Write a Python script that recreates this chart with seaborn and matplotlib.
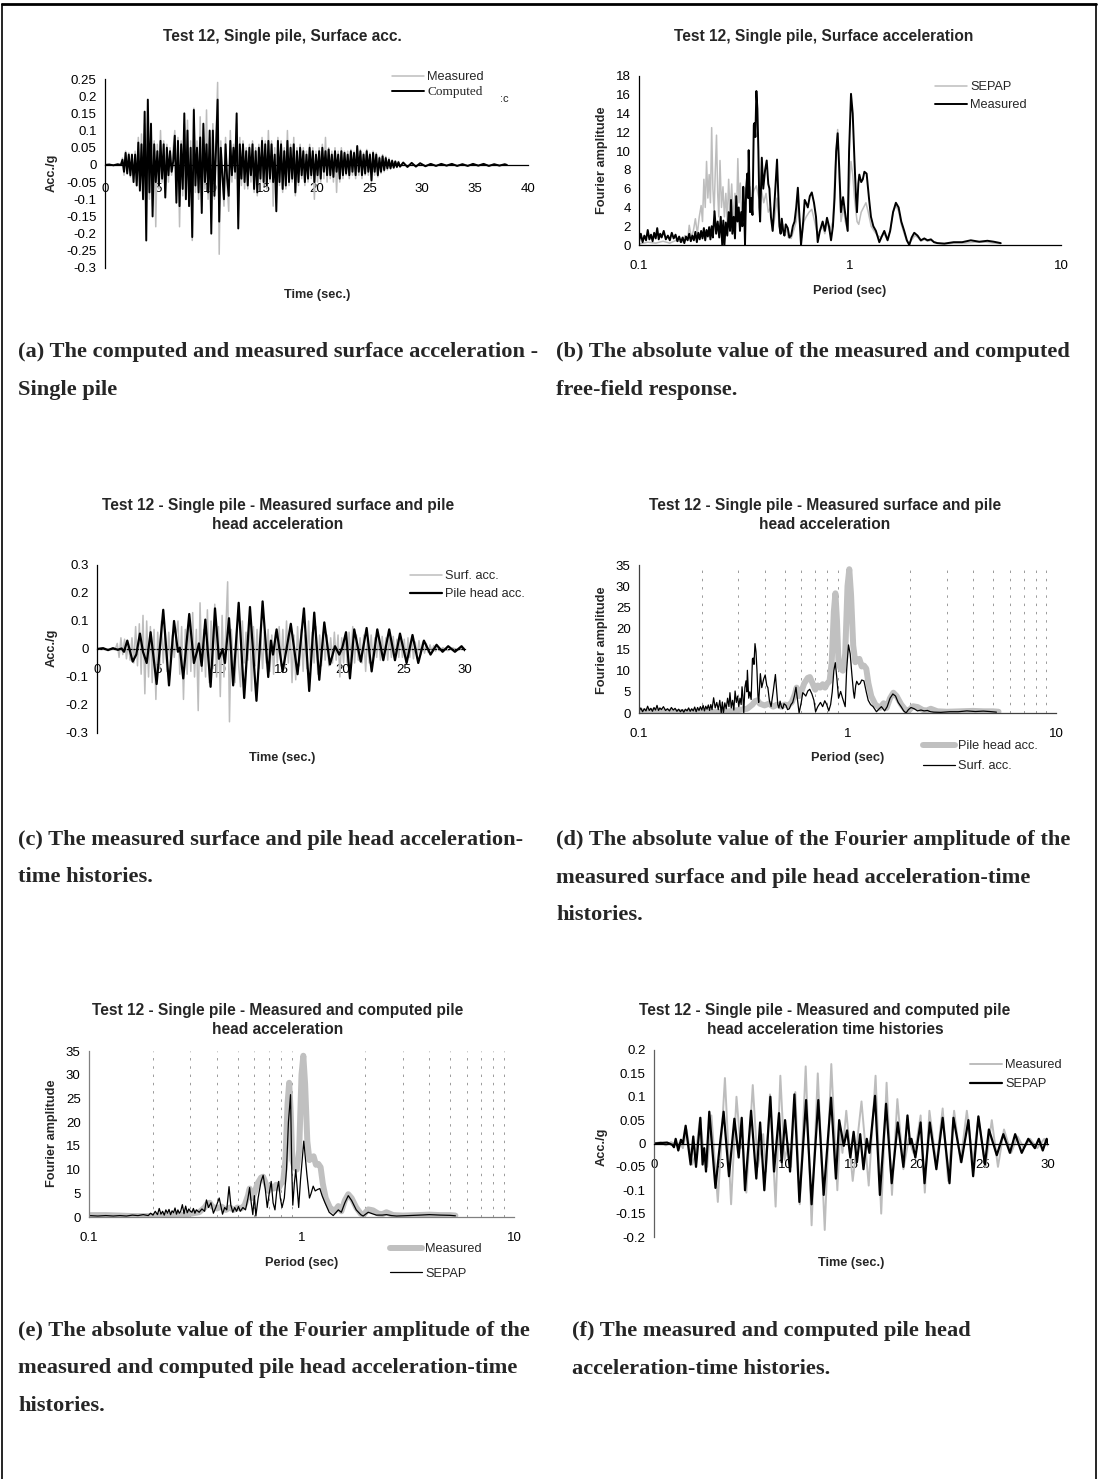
import numpy as np
import matplotlib
matplotlib.use("Agg")
import matplotlib.pyplot as plt
from matplotlib.lines import Line2D
from matplotlib.ticker import FixedLocator, FuncFormatter, LogLocator, NullFormatter
import seaborn as sns

# ---------------- values ----------------
# surface acceleration records (panels a and c): lead-in, 0.15 s samples from 1.5 s, tail
SURF_LEAD_T = [0.0, 0.4, 0.8, 1.2]
SURF_MEAS_LEAD = [0.0, 0.002, -0.002, 0.001]
SURF_COMP_LEAD = [0.0, 0.001, -0.001, 0.002]
SURF_T0, SURF_DT = 1.5, 0.15

SURF_MEAS_ACC = [
    0.0, 0.02, -0.03, 0.04, -0.02, 0.035, -0.035, 0.02, -0.04, 0.04,
    -0.05, 0.08, -0.06, 0.09, -0.09, 0.12, -0.16, 0.1, -0.1, 0.08,
    -0.12, 0.07, -0.18, 0.06, -0.07, 0.1, -0.05, 0.07, -0.08, 0.06,
    -0.05, 0.05, -0.03, 0.05, 0.1, -0.09, 0.08, -0.18, 0.07, -0.09,
    0.12, -0.08, 0.13, -0.1, 0.07, -0.22, 0.165, -0.08, 0.07, -0.1,
    0.14, -0.12, 0.1, -0.07, 0.16, -0.1, 0.08, -0.17, 0.12, -0.1,
    0.07, 0.24, -0.26, 0.07, -0.05, -0.12, 0.08, -0.06, -0.135, 0.1,
    -0.05, 0.06, -0.04, 0.12, -0.15, 0.08, -0.06, 0.07, -0.07, 0.05,
    -0.07, 0.06, -0.05, 0.07, -0.08, 0.05, -0.09, 0.06, -0.05, 0.08,
    -0.06, 0.07, -0.07, 0.1, -0.05, 0.07, -0.12, 0.05, -0.11, 0.08,
    -0.06, 0.07, -0.08, 0.05, -0.07, 0.1, -0.06, 0.06, -0.05, 0.08,
    -0.09, 0.05, -0.06, 0.06, -0.04, 0.05, -0.06, 0.04, -0.05, 0.06,
    -0.04, 0.05, -0.1, 0.04, -0.05, 0.05, -0.05, 0.06, -0.04, 0.08,
    -0.05, 0.05, -0.04, 0.04, -0.05, 0.05, -0.08, 0.04, -0.05, 0.05,
    -0.04, 0.04, -0.03, 0.04, -0.04, 0.045, -0.03, 0.04, -0.04, 0.05,
    -0.03, 0.045, -0.04, 0.035, -0.03, 0.045, -0.03, 0.035, -0.05, 0.04,
    -0.03, 0.035, -0.035, 0.025, -0.025, 0.03, -0.02, 0.025, -0.015, 0.02,
    -0.012, 0.015, -0.01, 0.012, -0.008, 0.01, -0.006,
]
SURF_COMP_ACC = [
    0.0, 0.015, -0.02, 0.035, -0.025, 0.03, -0.03, 0.03, -0.05, 0.03,
    -0.06, 0.065, -0.075, 0.06, -0.1, 0.155, -0.22, 0.19, -0.08, 0.12,
    -0.15, 0.06, -0.05, 0.04, -0.06, 0.07, -0.04, 0.06, -0.095, 0.05,
    -0.03, 0.04, -0.02, 0.01, 0.085, -0.11, 0.07, -0.12, 0.06, -0.07,
    0.15, -0.1, 0.1, -0.12, 0.05, -0.21, 0.16, -0.06, 0.05, -0.08,
    0.08, -0.14, 0.12, -0.05, 0.06, -0.08, 0.1, -0.2, 0.1, -0.09,
    0.05, 0.19, -0.165, 0.05, -0.03, -0.1, 0.06, -0.04, -0.09, 0.07,
    -0.03, 0.05, -0.02, 0.15, -0.185, 0.06, -0.04, 0.06, -0.05, 0.04,
    -0.06, 0.05, -0.03, 0.06, -0.07, 0.04, -0.08, 0.05, -0.04, 0.07,
    -0.05, 0.06, -0.06, 0.07, -0.04, 0.06, -0.05, 0.03, -0.135, 0.07,
    -0.05, 0.06, -0.07, 0.04, -0.06, 0.07, -0.05, 0.05, -0.04, 0.06,
    -0.08, 0.04, -0.05, 0.05, -0.03, 0.04, -0.05, 0.03, -0.04, 0.05,
    -0.03, 0.04, -0.05, 0.03, -0.03, 0.04, -0.04, 0.05, -0.02, 0.04,
    -0.03, 0.045, -0.03, 0.03, -0.035, 0.04, -0.02, 0.03, -0.04, 0.04,
    -0.03, 0.035, -0.025, 0.03, -0.03, 0.04, -0.02, 0.035, -0.03, 0.055,
    -0.02, 0.04, -0.03, 0.03, -0.025, 0.04, -0.02, 0.03, -0.045, 0.035,
    -0.02, 0.03, -0.03, 0.02, -0.02, 0.025, -0.015, 0.02, -0.01, 0.015,
    -0.01, 0.012, -0.008, 0.01, -0.006, 0.008, -0.005,
]
SURF_TAIL_T = [28.2, 28.6, 29.0, 29.4, 29.8, 30.3, 30.8, 31.3, 31.8, 32.3, 32.8,
               33.3, 33.8, 34.3, 34.8, 35.3, 35.8, 36.3, 36.8, 37.3, 37.8, 38.0]
SURF_MEAS_TAIL = [0.005, -0.006, 0.004, -0.004, 0.004, -0.003, 0.003, -0.002, 0.002, -0.003, 0.002,
                  -0.002, 0.003, -0.002, 0.002, -0.003, 0.002, -0.002, 0.002, -0.002, 0.001, 0.0]
SURF_COMP_TAIL = [0.007, -0.006, 0.006, -0.005, 0.005, -0.004, 0.003, -0.003, 0.003, -0.002, 0.003,
                  -0.003, 0.002, -0.003, 0.003, -0.002, 0.003, -0.003, 0.002, -0.002, 0.002, 0.0]

# pile head acceleration (time s, acc/g) - measured and SEPAP
PILE_MEAS = [
    (0.0, 0.0), (0.5, 0.003), (0.9, -0.004), (1.3, 0.003), (1.7, -0.003), (2.0, 0.002),
    (2.2, -0.01), (2.47, 0.03), (2.91, -0.045), (3.2, -0.02), (3.5, 0.055), (3.75, -0.01),
    (4.05, -0.05), (4.37, 0.06), (4.86, -0.125), (5.4, 0.14), (5.87, -0.13), (6.28, 0.1),
    (6.6, -0.01), (6.75, 0.005), (7.03, -0.105), (7.52, 0.125), (7.9, -0.05), (8.15, -0.01),
    (8.31, 0.02), (8.53, -0.06), (8.83, 0.105), (9.26, -0.135), (9.62, 0.145), (9.94, -0.035),
    (10.24, 0.0), (10.43, -0.05), (10.76, 0.11), (11.1, -0.13), (11.55, 0.165), (12.0, -0.175),
    (12.47, 0.15), (13.0, -0.185), (13.5, 0.17), (13.96, -0.1), (14.18, 0.03), (14.35, -0.02),
    (14.64, 0.07), (15.13, -0.08), (15.45, 0.0), (15.8, 0.09), (16.35, -0.09), (16.87, 0.145),
    (17.3, -0.15), (17.71, 0.13), (18.12, -0.11), (18.53, 0.095), (18.99, -0.055), (19.4, 0.01),
    (19.75, -0.02), (20.0, 0.005), (20.3, 0.06), (20.62, -0.105), (20.97, 0.07), (21.5, -0.045),
    (21.98, 0.075), (22.39, -0.08), (22.85, 0.07), (23.34, -0.04), (23.82, 0.07), (24.29, -0.04),
    (24.7, 0.055), (25.24, -0.05), (25.72, 0.05), (26.19, -0.05), (26.65, 0.03), (27.19, -0.02),
    (27.68, 0.015), (28.17, -0.01), (28.63, 0.01), (29.18, -0.01), (29.72, 0.01), (30.0, -0.005),
]
PILE_SEPAP = [
    (0.0, 0.0), (1.0, 0.002), (1.4, -0.003), (1.52, -0.008), (1.65, 0.01), (1.85, -0.015),
    (2.05, 0.008), (2.2, 0.0), (2.41, 0.038), (2.79, -0.045), (2.99, 0.015), (3.2, -0.05),
    (3.53, 0.055), (3.7, -0.045), (3.82, -0.01), (3.96, -0.06), (4.21, 0.068), (4.68, -0.095),
    (4.95, -0.02), (5.3, 0.068), (5.71, -0.07), (6.12, 0.053), (6.45, -0.03), (6.68, 0.055),
    (6.93, -0.1), (7.39, 0.07), (7.79, -0.075), (8.08, 0.045), (8.4, -0.1), (8.86, 0.1),
    (9.14, -0.06), (9.52, 0.065), (9.72, -0.04), (9.98, 0.05), (10.36, -0.06), (10.69, 0.105),
    (11.07, -0.125), (11.58, 0.093), (12.0, -0.13), (12.51, 0.093), (12.92, -0.11), (13.48, 0.098),
    (13.85, -0.075), (14.1, 0.05), (14.45, -0.005), (14.7, 0.028), (14.95, -0.03), (15.2, 0.025),
    (15.45, -0.04), (15.7, 0.02), (15.95, -0.055), (16.2, 0.01), (16.4, -0.02), (16.83, 0.102),
    (17.2, -0.11), (17.67, 0.085), (18.1, -0.085), (18.56, 0.045), (18.99, -0.05), (19.3, 0.06),
    (19.5, 0.0), (19.6, 0.01), (19.9, -0.03), (20.3, 0.045), (20.6, -0.085), (21.0, 0.045),
    (21.5, -0.055), (21.98, 0.055), (22.5, -0.085), (22.8, 0.055), (23.4, -0.04), (23.94, 0.05),
    (24.3, -0.07), (24.7, 0.058), (25.2, -0.045), (25.5, 0.03), (26.1, -0.025), (26.6, 0.02),
    (27.1, -0.02), (27.5, 0.02), (28.0, -0.02), (28.5, 0.01), (29.0, -0.01), (29.3, 0.01),
    (29.6, -0.015), (29.9, 0.01), (30.0, 0.0),
]

# Fourier amplitude spectra (period s, amplitude)
SPEC_SURF_MEAS = [
    (0.1, 0.4), (0.102, 1.2), (0.104, 0.3), (0.106, 1.0), (0.108, 0.5), (0.11, 1.6), (0.112, 0.6),
    (0.114, 1.1), (0.116, 0.4), (0.118, 1.3), (0.12, 0.7), (0.122, 1.8), (0.124, 0.6), (0.126, 1.2),
    (0.128, 0.8), (0.131, 1.5), (0.134, 0.6), (0.137, 1.0), (0.14, 0.5), (0.143, 1.3), (0.146, 0.7),
    (0.149, 1.1), (0.152, 0.4), (0.155, 0.9), (0.158, 0.3), (0.161, 0.8), (0.164, 0.2), (0.167, 0.9),
    (0.17, 0.5), (0.173, 1.2), (0.176, 0.4), (0.179, 1.0), (0.182, 0.5), (0.185, 1.4), (0.188, 0.3),
    (0.191, 1.3), (0.194, 0.6), (0.197, 1.5), (0.2, 0.7), (0.203, 1.8), (0.206, 0.5), (0.209, 1.6),
    (0.212, 0.9), (0.215, 1.9), (0.218, 0.6), (0.221, 2.0), (0.224, 0.8), (0.228, 3.6), (0.232, 1.2),
    (0.236, 2.5), (0.24, 0.8), (0.244, 3.0), (0.248, 0.0), (0.251, 2.6), (0.254, 0.0), (0.258, 2.4),
    (0.262, 1.0), (0.266, 3.5), (0.27, 1.5), (0.273, 4.8), (0.277, 1.2), (0.281, 3.0), (0.285, 0.7),
    (0.289, 5.2), (0.293, 2.5), (0.297, 4.0), (0.301, 1.5), (0.305, 3.5), (0.309, 2.0), (0.312, 6.2),
    (0.315, 4.0), (0.318, 0.0), (0.322, 6.0), (0.326, 7.6), (0.329, 5.0), (0.331, 10.1), (0.336, 3.5),
    (0.34, 5.0), (0.345, 3.2), (0.35, 12.8), (0.353, 13.0), (0.356, 11.5), (0.36, 16.4), (0.364, 14.5),
    (0.368, 10.0), (0.372, 4.0), (0.375, 2.5), (0.382, 9.3), (0.388, 6.0), (0.396, 8.0), (0.403, 9.0),
    (0.41, 6.5), (0.415, 6.0), (0.422, 3.0), (0.43, 1.5), (0.44, 5.0), (0.451, 9.1), (0.458, 5.0),
    (0.463, 2.0), (0.469, 1.2), (0.475, 2.8), (0.482, 1.5), (0.489, 1.0), (0.496, 2.2), (0.507, 1.8),
    (0.516, 0.8), (0.526, 1.0), (0.536, 2.0), (0.546, 2.5), (0.556, 4.0), (0.566, 6.1), (0.576, 3.0),
    (0.586, 0.0), (0.6, 2.5), (0.61, 4.8), (0.619, 4.5), (0.631, 4.0), (0.645, 5.2), (0.659, 5.6),
    (0.675, 4.5), (0.69, 3.0), (0.703, 0.3), (0.72, 1.5), (0.742, 2.5), (0.76, 1.5), (0.778, 2.9),
    (0.795, 2.0), (0.813, 0.5), (0.83, 2.0), (0.845, 5.0), (0.86, 10.0), (0.874, 11.9), (0.89, 8.0),
    (0.906, 3.5), (0.927, 5.1), (0.947, 3.5), (0.975, 1.5), (0.99, 10.0), (1.011, 16.1), (1.03, 14.0),
    (1.05, 9.0), (1.068, 5.0), (1.079, 3.5), (1.095, 6.5), (1.107, 7.5), (1.13, 6.7), (1.15, 7.0),
    (1.17, 7.8), (1.199, 7.6), (1.23, 5.0), (1.257, 3.0), (1.29, 2.0), (1.327, 1.5), (1.377, 0.3),
    (1.42, 1.0), (1.454, 1.5), (1.48, 1.0), (1.507, 0.5), (1.55, 1.5), (1.6, 3.5), (1.65, 4.5),
    (1.7, 4.0), (1.75, 2.5), (1.807, 1.5), (1.86, 0.5), (1.909, 0.0), (1.96, 0.8), (2.016, 1.3),
    (2.09, 1.0), (2.166, 0.5), (2.25, 0.7), (2.33, 0.5), (2.418, 0.6), (2.5, 0.3), (2.597, 0.2),
    (2.8, 0.15), (3.1, 0.3), (3.4, 0.3), (3.737, 0.5), (4.1, 0.35), (4.48, 0.45), (4.8, 0.35), (5.18, 0.2),
]
SPEC_SURF_SEPAP = [
    (0.1, 0.1), (0.11, 0.3), (0.12, 0.2), (0.13, 0.4), (0.14, 0.2), (0.15, 0.5), (0.16, 0.3),
    (0.165, 1.0), (0.17, 0.5), (0.173, 2.1), (0.177, 0.8), (0.181, 1.5), (0.185, 2.8), (0.189, 1.2),
    (0.193, 3.0), (0.197, 4.2), (0.2, 2.5), (0.203, 7.0), (0.206, 4.0), (0.209, 8.9), (0.212, 5.0),
    (0.215, 7.5), (0.218, 4.5), (0.221, 12.5), (0.224, 6.0), (0.227, 3.5), (0.23, 8.0), (0.233, 11.7),
    (0.236, 5.5), (0.239, 3.0), (0.242, 9.0), (0.246, 4.0), (0.25, 6.2), (0.254, 3.0), (0.258, 5.5),
    (0.262, 2.5), (0.266, 7.0), (0.27, 3.5), (0.275, 6.5), (0.28, 2.5), (0.285, 5.5), (0.29, 3.0),
    (0.294, 9.2), (0.298, 4.5), (0.302, 6.6), (0.307, 3.0), (0.312, 5.5), (0.318, 4.0), (0.324, 6.0),
    (0.33, 5.0), (0.336, 6.2), (0.342, 4.5), (0.35, 5.8), (0.36, 6.3), (0.37, 5.0), (0.38, 6.0),
    (0.39, 4.5), (0.4, 5.5), (0.41, 3.5), (0.42, 4.0), (0.43, 1.5), (0.44, 3.0), (0.451, 5.0),
    (0.46, 2.5), (0.47, 1.5), (0.48, 2.2), (0.49, 1.0), (0.5, 1.8), (0.51, 0.8), (0.526, 0.7),
    (0.54, 1.5), (0.556, 2.5), (0.566, 4.5), (0.58, 2.0), (0.59, 0.8), (0.605, 2.5), (0.62, 3.0),
    (0.64, 3.5), (0.659, 3.8), (0.68, 2.5), (0.7, 1.2), (0.72, 1.5), (0.742, 2.0), (0.76, 1.2),
    (0.778, 2.5), (0.8, 1.5), (0.83, 2.5), (0.85, 8.0), (0.874, 12.3), (0.89, 7.0), (0.906, 2.5),
    (0.93, 4.0), (0.95, 2.5), (0.975, 1.5), (0.99, 6.0), (1.011, 8.9), (1.03, 7.5), (1.05, 5.0),
    (1.08, 2.5), (1.1, 2.2), (1.13, 3.5), (1.16, 4.0), (1.19, 4.5), (1.22, 3.5), (1.26, 2.0),
    (1.3, 1.5), (1.35, 1.0), (1.4, 0.8), (1.45, 1.2), (1.5, 0.6), (1.55, 1.5), (1.6, 3.5),
    (1.65, 4.2), (1.7, 3.6), (1.75, 2.2), (1.807, 1.2), (1.86, 0.4), (1.91, 0.2), (1.97, 0.6),
    (2.03, 1.0), (2.1, 0.8), (2.17, 0.4), (2.25, 0.6), (2.33, 0.4), (2.42, 0.5), (2.6, 0.2),
    (2.8, 0.1), (3.1, 0.2), (3.5, 0.2), (3.9, 0.3), (4.4, 0.3), (4.8, 0.2), (5.18, 0.15),
]
SPEC_PILE_MEAS = [
    (0.1, 0.4), (0.12, 0.4), (0.14, 0.3), (0.16, 0.2), (0.2, 0.2), (0.24, 0.2), (0.27, 0.4),
    (0.3, 0.7), (0.33, 1.0), (0.35, 2.0), (0.36, 2.8), (0.37, 3.0), (0.38, 2.2), (0.4, 1.8),
    (0.42, 2.2), (0.44, 1.5), (0.46, 2.0), (0.48, 1.5), (0.5, 2.0), (0.52, 1.8), (0.54, 2.5),
    (0.56, 4.5), (0.57, 6.0), (0.585, 4.0), (0.6, 5.0), (0.62, 7.0), (0.645, 8.3), (0.66, 8.5),
    (0.68, 7.0), (0.7, 5.5), (0.72, 6.5), (0.74, 6.0), (0.76, 6.8), (0.78, 6.0), (0.8, 7.0),
    (0.82, 7.5), (0.84, 12.0), (0.86, 24.0), (0.875, 28.3), (0.89, 22.0), (0.905, 12.0),
    (0.925, 10.5), (0.95, 10.0), (0.975, 14.0), (1.0, 30.0), (1.02, 34.0), (1.04, 28.0),
    (1.065, 16.0), (1.09, 12.0), (1.115, 12.5), (1.14, 12.8), (1.17, 11.0), (1.2, 11.2),
    (1.23, 10.5), (1.26, 7.0), (1.3, 4.0), (1.36, 2.0), (1.43, 1.2), (1.49, 2.3), (1.54, 1.2),
    (1.6, 3.5), (1.66, 4.8), (1.72, 4.0), (1.81, 2.0), (1.9, 0.7), (1.96, 0.5), (2.06, 1.6),
    (2.17, 1.4), (2.3, 0.7), (2.4, 0.6), (2.51, 1.0), (2.7, 0.4), (3.0, 0.3), (3.5, 0.4),
    (4.0, 0.5), (4.5, 0.4), (5.0, 0.4), (5.3, 0.3),
]
SPEC_PILE_SEPAP = [
    (0.1, 0.3), (0.11, 0.2), (0.12, 0.3), (0.13, 0.2), (0.14, 0.3), (0.15, 0.2), (0.16, 0.4),
    (0.17, 0.3), (0.18, 0.5), (0.19, 0.3), (0.195, 0.8), (0.2, 0.4), (0.205, 1.2), (0.21, 0.5),
    (0.214, 1.8), (0.218, 0.6), (0.222, 1.2), (0.226, 0.4), (0.23, 1.5), (0.234, 0.8), (0.238, 1.6),
    (0.242, 0.5), (0.246, 1.3), (0.25, 0.9), (0.254, 1.9), (0.258, 0.6), (0.262, 1.5), (0.266, 0.8),
    (0.27, 1.2), (0.275, 2.6), (0.28, 0.7), (0.285, 2.3), (0.29, 0.9), (0.295, 1.7), (0.3, 1.2),
    (0.305, 1.0), (0.31, 1.8), (0.315, 0.8), (0.32, 1.5), (0.33, 1.0), (0.34, 1.7), (0.35, 1.2),
    (0.357, 3.6), (0.365, 2.0), (0.375, 3.0), (0.385, 0.8), (0.395, 2.0), (0.41, 4.0), (0.425, 0.6),
    (0.435, 2.0), (0.445, 1.5), (0.456, 6.4), (0.465, 2.5), (0.475, 1.0), (0.485, 2.0), (0.495, 1.2),
    (0.505, 2.2), (0.515, 1.2), (0.53, 2.0), (0.545, 1.5), (0.56, 4.0), (0.57, 6.2), (0.58, 3.0),
    (0.59, 0.5), (0.6, 4.5), (0.61, 0.2), (0.625, 4.0), (0.645, 7.5), (0.66, 8.8), (0.675, 6.0),
    (0.69, 2.0), (0.705, 5.0), (0.72, 7.5), (0.735, 3.0), (0.75, 1.5), (0.765, 5.5), (0.78, 7.5),
    (0.795, 4.0), (0.81, 2.0), (0.83, 4.0), (0.85, 10.0), (0.868, 20.0), (0.888, 25.8), (0.9, 10.0),
    (0.91, 2.5), (0.925, 7.0), (0.94, 10.0), (0.955, 6.0), (0.97, 2.0), (0.99, 8.0), (1.025, 16.0),
    (1.045, 12.0), (1.06, 9.0), (1.09, 4.0), (1.11, 5.0), (1.135, 6.5), (1.16, 5.5), (1.19, 5.8),
    (1.22, 6.0), (1.25, 4.5), (1.29, 3.0), (1.35, 1.0), (1.41, 0.3), (1.49, 1.5), (1.54, 1.0),
    (1.6, 3.0), (1.66, 4.5), (1.72, 3.5), (1.81, 1.5), (1.9, 0.5), (1.95, 0.2), (2.06, 1.0),
    (2.15, 0.7), (2.25, 0.4), (2.4, 0.4), (2.51, 0.5), (2.65, 0.3), (2.8, 0.2), (3.2, 0.3),
    (3.6, 0.4), (4.0, 0.5), (4.5, 0.4), (5.0, 0.35), (5.3, 0.25),
]

CAPTIONS = {
    "a": ["(a) The computed and measured surface acceleration -", "Single pile"],
    "b": ["(b) The absolute value of the measured and computed", "free-field response."],
    "c": ["(c) The measured surface and pile head acceleration-", "time histories."],
    "d": ["(d) The absolute value of the Fourier amplitude of the",
          "measured surface and pile head acceleration-time", "histories."],
    "e": ["(e) The absolute value of the Fourier amplitude of the",
          "measured and computed pile head acceleration-time", "histories."],
    "f": ["(f) The measured and computed pile head", "acceleration-time histories."],
}

# ---------------- figure ----------------
sns.set_theme(style="white")
plt.rcParams["font.family"] = ["Liberation Sans", "DejaVu Sans"]

W, H = 1099, 1479
GREY = "#bdbdbd"
fig = plt.figure(figsize=(W / 100, H / 100), dpi=100)
fig.patch.set_facecolor("white")


def panel(l, t, r, b):
    return fig.add_axes([l / W, 1 - b / H, (r - l) / W, (b - t) / H])


def ftext(x, y, s, **kw):
    return fig.text(x / W, 1 - y / H, s, **kw)


def num(v, p=None):
    return "0" if abs(v) < 1e-9 else f"{round(v, 3):g}"


def base_style(ax, edge="black"):
    sns.despine(ax=ax)
    for s in ("left", "bottom"):
        ax.spines[s].set_color(edge)
        ax.spines[s].set_linewidth(0.9)
    ax.tick_params(which="major", direction="inout", length=5, width=0.8, color=edge,
                   labelsize=9.5, labelcolor="black")
    ax.tick_params(axis="x", pad=8.5)
    ax.tick_params(axis="y", pad=3.5)
    ax.set_xlabel("")
    ax.set_ylabel("")
    ax.set_facecolor("none")


def time_axes(ax, tmax, ylo, yhi, ystep, zero_ls="-", edge="black"):
    base_style(ax, edge)
    ax.spines["bottom"].set_color("black")
    ax.set_xlim(0, tmax)
    ax.set_ylim(ylo, yhi)
    ax.spines["bottom"].set_position(("data", 0))
    ax.spines["bottom"].set_linestyle(zero_ls)
    ax.tick_params(axis="x", color="black")
    ax.xaxis.set_major_locator(FixedLocator(np.arange(0, tmax + 1, 5)))
    ax.yaxis.set_major_locator(FixedLocator(np.round(np.arange(ylo, yhi + ystep / 2, ystep), 3)))
    ax.xaxis.set_major_formatter(FuncFormatter(num))
    ax.yaxis.set_major_formatter(FuncFormatter(num))


def spec_axes(ax, ymax, ystep, grid=False, edge="black"):
    base_style(ax, edge)
    ax.set_xlim(0.1, 10)
    ax.set_ylim(0, ymax)
    ax.xaxis.set_major_locator(FixedLocator([0.1, 1, 10]))
    ax.xaxis.set_major_formatter(FuncFormatter(num))
    ax.xaxis.set_minor_locator(LogLocator(base=10, subs=np.arange(2, 10)))
    ax.xaxis.set_minor_formatter(NullFormatter())
    ax.tick_params(axis="x", which="minor", length=0)
    ax.yaxis.set_major_locator(FixedLocator(np.arange(0, ymax + 1, ystep)))
    ax.yaxis.set_major_formatter(FuncFormatter(num))
    if grid:
        ax.grid(True, axis="x", which="minor", color="#9a9a9a", lw=0.7, ls=(0, (2.5, 6)))


def line(ax, x, y, color, lw, label):
    sns.lineplot(x=np.asarray(x), y=np.asarray(y), ax=ax, color=color, lw=lw,
                 label=label, estimator=None, sort=False)


def legend(ax, x, y, spacing):
    h, l = ax.get_legend_handles_labels()
    return ax.legend(h, l, loc="upper left", bbox_to_anchor=(x / W, 1 - y / H),
                     bbox_transform=fig.transFigure, frameon=False, fontsize=9.2,
                     handlelength=2.5, handletextpad=0.25, labelspacing=spacing,
                     borderpad=0, borderaxespad=0)


def labels(title, tx, ty, xlab, xx, xy, ylab, yx, yy):
    ftext(tx, ty, title, ha="center", va="center", fontsize=11.2, fontweight="bold", linespacing=1.3)
    ftext(xx, xy, xlab, ha="center", va="center", fontsize=9.2, fontweight="bold")
    ftext(yx, yy, ylab, ha="center", va="center", fontsize=9.2, fontweight="bold", rotation=90)


def split(pairs):
    return [p[0] for p in pairs], [p[1] for p in pairs]


surf_t = np.concatenate([SURF_LEAD_T, SURF_T0 + SURF_DT * np.arange(len(SURF_MEAS_ACC)), SURF_TAIL_T])
surf_meas = np.concatenate([SURF_MEAS_LEAD, SURF_MEAS_ACC, SURF_MEAS_TAIL])
surf_comp = np.concatenate([SURF_COMP_LEAD, SURF_COMP_ACC, SURF_COMP_TAIL])
pile_t, pile_v = split(PILE_MEAS)
sep_t, sep_v = split(PILE_SEPAP)

# (a) surface acceleration, measured vs computed
ax = panel(105, 79, 528, 268)
line(ax, surf_t, surf_meas, GREY, 1.1, "Measured")
line(ax, surf_t, surf_comp, "black", 1.4, "Computed")
time_axes(ax, 40, -0.3, 0.25, 0.05)
ax.tick_params(axis="x", pad=10.5)
leg = legend(ax, 392, 71, 0.25)
leg.get_texts()[1].set_fontfamily(["Liberation Serif"])
leg.get_texts()[1].set_fontsize(9.5)
ftext(500, 99, ":c", fontsize=8, ha="left", va="center")
labels("Test 12, Single pile, Surface acc.", 282, 37, "Time (sec.)", 317, 295, "Acc./g", 52, 173)

# (b) surface spectra
ax = panel(639, 76, 1061, 245)
ax.set_xscale("log")
x, y = split(SPEC_SURF_SEPAP)
line(ax, x, y, GREY, 1.1, "SEPAP")
x, y = split(SPEC_SURF_MEAS)
line(ax, x, y, "black", 1.4, "Measured")
spec_axes(ax, 18, 2)
legend(ax, 935, 81, 0.5)
labels("Test 12, Single pile, Surface acceleration", 824, 37, "Period (sec)", 850, 291,
       "Fourier amplitude", 602, 160)

# (c) surface vs pile head time histories
ax = panel(97, 565, 465, 733)
line(ax, surf_t, surf_meas, GREY, 1.1, "Surf. acc.")
line(ax, pile_t, pile_v, "black", 1.6, "Pile head acc.")
time_axes(ax, 30, -0.3, 0.3, 0.1, zero_ls=":")
legend(ax, 410, 570, 0.5)
labels("Test 12 - Single pile - Measured surface and pile\nhead acceleration", 278, 515,
       "Time (sec.)", 282, 758, "Acc./g", 52, 648)

# (d) surface vs pile head spectra
ax = panel(639, 565, 1056, 713)
ax.set_xscale("log")
x, y = split(SPEC_PILE_MEAS)
line(ax, x, y, "#c0c0c0", 4.3, "Pile head acc.")
x, y = split(SPEC_SURF_MEAS)
line(ax, x, y, "black", 0.9, "Surf. acc.")
spec_axes(ax, 35, 5, grid=True, edge="#404040")
legend(ax, 923, 740, 0.66)
labels("Test 12 - Single pile - Measured surface and pile\nhead acceleration", 825, 515,
       "Period (sec)", 848, 758, "Fourier amplitude", 602, 640)

# (e) pile head spectra, measured vs SEPAP
ax = panel(89, 1051, 514, 1217)
ax.set_xscale("log")
x, y = split(SPEC_PILE_MEAS)
line(ax, x, y, "#c0c0c0", 4.3, "Measured")
x, y = split(SPEC_PILE_SEPAP)
line(ax, x, y, "black", 0.9, "SEPAP")
spec_axes(ax, 35, 5, grid=True, edge="#808080")
legend(ax, 390, 1243, 0.98)
labels("Test 12 - Single pile - Measured and computed pile\nhead acceleration", 278, 1020,
       "Period (sec)", 302, 1263, "Fourier amplitude", 52, 1133)

# (f) pile head time histories, measured vs SEPAP
ax = panel(654, 1050, 1048, 1237)
line(ax, pile_t, pile_v, GREY, 1.4, "Measured")
line(ax, sep_t, sep_v, "black", 1.6, "SEPAP")
time_axes(ax, 30, -0.2, 0.2, 0.05, edge="#606060")
legend(ax, 970, 1059, 0.58)
labels("Test 12 - Single pile - Measured and computed pile\nhead acceleration time histories", 825, 1020,
       "Time (sec.)", 851, 1263, "Acc./g", 602, 1147)

# captions under each panel
cap_pos = {"a": (18, 352), "b": (556, 352), "c": (18, 840), "d": (556, 840),
           "e": (18, 1331), "f": (572, 1331)}
for key, rows in CAPTIONS.items():
    cx, cy = cap_pos[key]
    for i, row in enumerate(rows):
        ftext(cx, cy + 37.5 * i, row, ha="left", va="center", fontsize=16.1,
              fontweight="bold", family=["Liberation Serif", "DejaVu Serif"])

# page frame
fig.add_artist(Line2D([2 / W, 2 / W], [0, 1 - 4 / H], transform=fig.transFigure, color="black", lw=1.2))
fig.add_artist(Line2D([1096 / W, 1096 / W], [0, 1 - 4 / H], transform=fig.transFigure, color="black", lw=1.2))
fig.add_artist(Line2D([2 / W, 1096 / W], [1 - 4 / H, 1 - 4 / H], transform=fig.transFigure, color="black", lw=2))

fig.savefig("out.png", dpi=100, facecolor="white")
